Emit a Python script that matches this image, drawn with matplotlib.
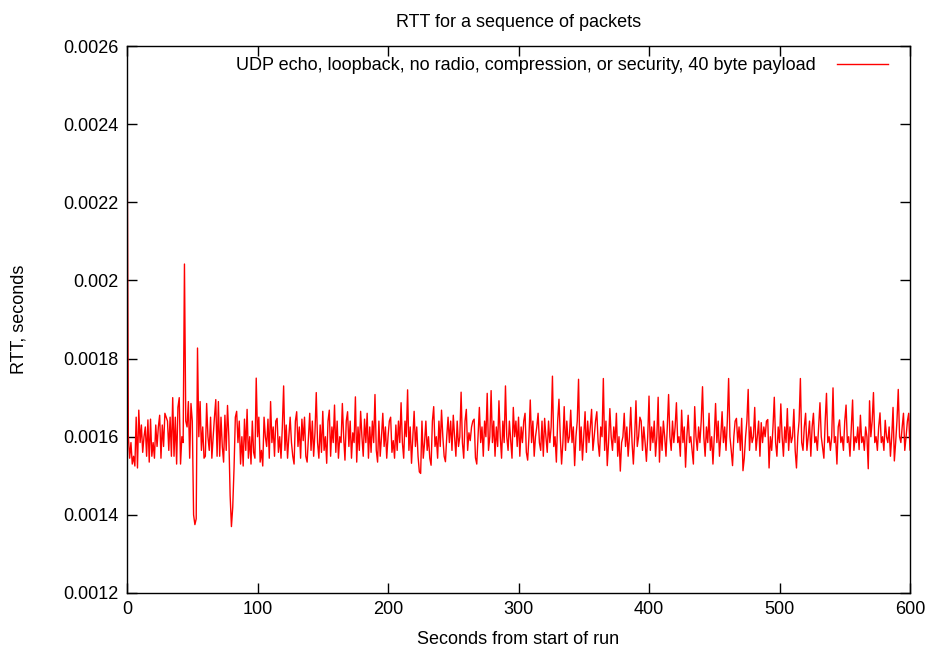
import matplotlib.pyplot as plt
from matplotlib.ticker import FuncFormatter, MultipleLocator

plt.rcParams['font.family'] = ['Liberation Sans', 'DejaVu Sans']

# RTT per packet, microseconds, one sample per second
rtt_us = [
    2480, 1600, 1545, 1585, 1530, 1550, 1525, 1650, 1520, 1668,
    1585, 1630, 1560, 1600, 1625, 1550, 1643, 1535, 1645, 1550,
    1585, 1545, 1630, 1575, 1625, 1655, 1545, 1630, 1575, 1660,
    1650, 1640, 1565, 1650, 1550, 1700, 1550, 1650, 1530, 1675,
    1700, 1530, 1600, 1585, 2042, 1640, 1625, 1690, 1545, 1685,
    1640, 1400, 1375, 1390, 1827, 1600, 1690, 1565, 1625, 1545,
    1550, 1685, 1600, 1565, 1650, 1545, 1600, 1650, 1695, 1550,
    1690, 1550, 1650, 1575, 1535, 1655, 1565, 1680, 1600, 1450,
    1370, 1420, 1520, 1650, 1665, 1585, 1640, 1530, 1600, 1525,
    1645, 1565, 1670, 1545, 1600, 1530, 1640, 1560, 1545, 1750,
    1600, 1650, 1535, 1565, 1525, 1650, 1600, 1575, 1645, 1545,
    1690, 1585, 1625, 1550, 1640, 1647, 1560, 1600, 1545, 1625,
    1730, 1565, 1630, 1545, 1600, 1650, 1585, 1550, 1530, 1640,
    1664, 1575, 1625, 1545, 1645, 1590, 1650, 1550, 1535, 1600,
    1660, 1565, 1640, 1550, 1610, 1713, 1585, 1545, 1630, 1560,
    1665, 1565, 1600, 1532, 1640, 1668, 1550, 1625, 1585, 1681,
    1560, 1640, 1545, 1600, 1585, 1685, 1600, 1540, 1640, 1664,
    1575, 1640, 1545, 1610, 1585, 1702, 1535, 1625, 1565, 1665,
    1600, 1550, 1645, 1585, 1660, 1545, 1625, 1560, 1640, 1585,
    1708, 1565, 1535, 1640, 1550, 1600, 1660, 1575, 1625, 1545,
    1600, 1640, 1650, 1560, 1590, 1545, 1630, 1565, 1640, 1585,
    1687, 1585, 1545, 1640, 1600, 1720, 1565, 1625, 1532, 1600,
    1665, 1575, 1625, 1550, 1510, 1506, 1640, 1545, 1585, 1640,
    1565, 1600, 1545, 1527, 1640, 1677, 1575, 1600, 1545, 1640,
    1575, 1668, 1600, 1550, 1536, 1600, 1650, 1585, 1640, 1565,
    1655, 1600, 1550, 1640, 1575, 1600, 1714, 1585, 1545, 1640,
    1670, 1565, 1610, 1590, 1625, 1640, 1645, 1546, 1530, 1600,
    1675, 1585, 1625, 1550, 1640, 1600, 1711, 1565, 1600, 1718,
    1585, 1640, 1550, 1625, 1575, 1692, 1600, 1545, 1640, 1585,
    1730, 1600, 1565, 1640, 1590, 1545, 1675, 1600, 1640, 1575,
    1650, 1550, 1625, 1585, 1640, 1660, 1560, 1540, 1600, 1694,
    1585, 1640, 1550, 1600, 1625, 1660, 1585, 1565, 1640, 1550,
    1647, 1600, 1560, 1640, 1585, 1625, 1755, 1575, 1600, 1535,
    1640, 1696, 1600, 1530, 1585, 1677, 1565, 1640, 1585, 1600,
    1668, 1585, 1625, 1526, 1600, 1640, 1747, 1565, 1625, 1540,
    1600, 1664, 1560, 1640, 1585, 1625, 1670, 1565, 1600, 1640,
    1664, 1585, 1550, 1625, 1600, 1749, 1565, 1640, 1526, 1585,
    1672, 1600, 1565, 1625, 1585, 1660, 1550, 1600, 1512, 1585,
    1600, 1660, 1575, 1625, 1550, 1600, 1675, 1585, 1530, 1600,
    1692, 1575, 1600, 1650, 1640, 1565, 1625, 1585, 1537, 1600,
    1704, 1565, 1625, 1585, 1640, 1550, 1600, 1701, 1535, 1625,
    1565, 1640, 1600, 1550, 1625, 1708, 1600, 1565, 1640, 1585,
    1625, 1687, 1585, 1600, 1550, 1668, 1585, 1625, 1522, 1600,
    1655, 1585, 1600, 1565, 1530, 1677, 1600, 1565, 1625, 1585,
    1640, 1728, 1600, 1550, 1625, 1585, 1660, 1565, 1600, 1530,
    1600, 1685, 1585, 1640, 1550, 1600, 1664, 1585, 1625, 1565,
    1640, 1749, 1600, 1565, 1526, 1600, 1640, 1647, 1585, 1625,
    1565, 1647, 1513, 1545, 1600, 1640, 1721, 1565, 1625, 1585,
    1600, 1675, 1565, 1600, 1640, 1550, 1636, 1585, 1625, 1600,
    1640, 1644, 1520, 1600, 1565, 1625, 1701, 1585, 1550, 1625,
    1585, 1684, 1600, 1550, 1625, 1585, 1672, 1565, 1625, 1585,
    1600, 1670, 1565, 1520, 1600, 1640, 1749, 1585, 1565, 1625,
    1660, 1565, 1600, 1640, 1550, 1625, 1660, 1585, 1600, 1565,
    1625, 1687, 1600, 1572, 1545, 1640, 1711, 1585, 1600, 1565,
    1600, 1725, 1585, 1600, 1530, 1625, 1643, 1585, 1600, 1565,
    1640, 1681, 1585, 1600, 1550, 1625, 1694, 1565, 1600, 1585,
    1625, 1567, 1655, 1585, 1600, 1565, 1625, 1600, 1518, 1692,
    1600, 1640, 1713, 1585, 1600, 1565, 1625, 1661, 1585, 1600,
    1565, 1642, 1600, 1585, 1625, 1550, 1600, 1675, 1538, 1585,
    1640, 1721, 1600, 1585, 1625, 1660, 1565, 1600, 1640, 1660,
    1566,
]
seconds = list(range(len(rtt_us)))
rtt = [v / 1e6 for v in rtt_us]

fig = plt.figure(figsize=(9.3, 6.5), dpi=100)
ax = fig.add_axes([0.1366, 0.0877, 0.8419, 0.8415])

ax.plot(seconds, rtt, color='#ff0000', lw=1.0,
        label='UDP echo, loopback, no radio, compression, or security, 40 byte payload')

ax.set_xlim(0, 600)
ax.set_ylim(0.0012, 0.0026)
ax.xaxis.set_major_locator(MultipleLocator(100))
ax.yaxis.set_major_locator(MultipleLocator(0.0002))
ax.yaxis.set_major_formatter(FuncFormatter(lambda v, p: '%g' % v))
ax.tick_params(direction='in', length=7, width=1, top=True, right=True,
               labelsize=13, pad=6)
for s in ax.spines.values():
    s.set_linewidth(1.0)

ax.set_title('RTT for a sequence of packets', fontsize=13, pad=14)
ax.set_xlabel('Seconds from start of run', fontsize=13, labelpad=9)
ax.set_ylabel('RTT, seconds', fontsize=13, labelpad=26)

ax.legend(loc='upper right', frameon=False, fontsize=13, markerfirst=False,
          handlelength=2.8, handletextpad=1.2, borderaxespad=0,
          bbox_to_anchor=(0.981, 0.993))

fig.savefig('out.png', dpi=100)
